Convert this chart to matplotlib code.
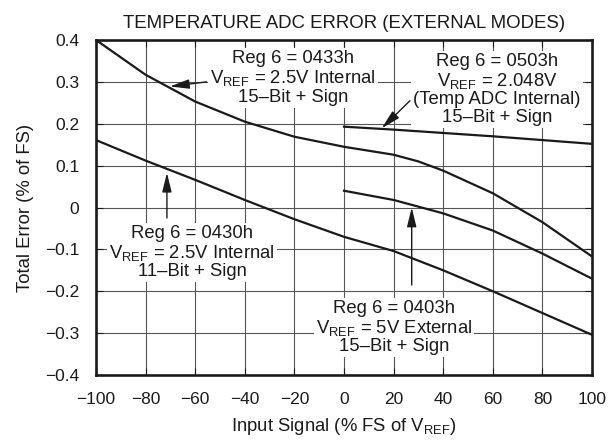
import matplotlib
matplotlib.use('Agg')
import matplotlib.pyplot as plt

plt.rcParams['font.family'] = ['Liberation Sans', 'DejaVu Sans']
plt.rcParams['mathtext.fontset'] = 'custom'
plt.rcParams['mathtext.rm'] = 'Liberation Sans'

# curves (x = % FS, y = % of FS)
x_0433 = [-100, -80, -60, -40, -20, 0, 20, 30, 40, 60, 80, 100]
y_0433 = [0.400, 0.317, 0.253, 0.205, 0.169, 0.145, 0.126, 0.110, 0.088, 0.034, -0.035, -0.117]

x_0503 = [0, 20, 40, 60, 80, 100]
y_0503 = [0.193, 0.186, 0.178, 0.170, 0.161, 0.152]

x_0403 = [0, 20, 30, 40, 60, 80, 100]
y_0403 = [0.040, 0.018, 0.002, -0.014, -0.055, -0.110, -0.170]

x_0430 = [-100, -80, -60, -40, -20, 0, 20, 40, 60, 80, 100]
y_0430 = [0.161, 0.112, 0.066, 0.018, -0.028, -0.070, -0.104, -0.150, -0.200, -0.252, -0.304]

xticks = [-100, -80, -60, -40, -20, 0, 20, 40, 60, 80, 100]
yticks = [0.4, 0.3, 0.2, 0.1, 0, -0.1, -0.2, -0.3, -0.4]
ylabels = ['0.4', '0.3', '0.2', '0.1', '0', '\u22120.1', '\u22120.2', '\u22120.3', '\u22120.4']

ink = '#1a1a1a'
fs = 13.3

fig = plt.figure(figsize=(6.16, 4.43), dpi=100)
ax = fig.add_axes([96/616, 68/443, 496/616, 335/443])

# grid drawn by hand so the text boxes can hide it but not the ticks
for xv in xticks[1:-1]:
    ax.axvline(xv, color='#555555', lw=0.8, zorder=1)
for yv in yticks[1:-1]:
    ax.axhline(yv, color='#555555', lw=0.8, zorder=1)

# curves sit above the white text boxes
for xs, ys in [(x_0433, y_0433), (x_0503, y_0503), (x_0403, y_0403), (x_0430, y_0430)]:
    ax.plot(xs, ys, color=ink, lw=1.6, zorder=3.2, solid_joinstyle='round')

ax.set_xlim(-100, 100)
ax.set_ylim(-0.4, 0.4)
ax.set_xticks(xticks)
ax.set_xticklabels([str(v).replace('-', '\u2212') for v in xticks])
ax.set_yticks(yticks)
ax.set_yticklabels(ylabels)
ax.tick_params(direction='in', length=5, width=0.8, top=True, right=True,
               labelsize=12.5, pad=12, colors=ink)
ax.xaxis.set_zorder(4)
ax.yaxis.set_zorder(4)
for s in ax.spines.values():
    s.set_linewidth(1.9)
    s.set_color(ink)
    s.set_zorder(5)

ax.set_title('TEMPERATURE ADC ERROR (EXTERNAL MODES)', fontsize=13.4, color=ink, pad=9)
ax.set_xlabel('Input Signal (% FS of V$_\\mathregular{REF}$)', fontsize=fs, color=ink, labelpad=7)
ax.set_ylabel('Total Error (% of FS)', fontsize=fs, color=ink, labelpad=8)

box = dict(facecolor='white', edgecolor='none', pad=1.5)
arrow = dict(arrowstyle='-|>,head_length=0.9,head_width=0.22', color=ink, lw=1.0,
             shrinkA=0, shrinkB=0, mutation_scale=13)

notes = [
    ('Reg 6 = 0433h\nV$_\\mathregular{REF}$ = 2.5V Internal\n15\u2013Bit + Sign', -20.6, 0.309),
    ('Reg 6 = 0503h\nV$_\\mathregular{REF}$ = 2.048V\n(Temp ADC Internal)\n15\u2013Bit + Sign', 61.7, 0.282),
    ('Reg 6 = 0430h\nV$_\\mathregular{REF}$ = 2.5V Internal\n11\u2013Bit + Sign', -61.3, -0.108),
    ('Reg 6 = 0403h\nV$_\\mathregular{REF}$ = 5V External\n15\u2013Bit + Sign', 20.2, -0.287),
]
for txt, tx, ty in notes:
    ax.text(tx, ty, txt, ha='center', va='center', multialignment='center',
            fontsize=fs, color=ink, bbox=box, zorder=3, linespacing=1.05)

arrows = [
    ((-55.4, 0.300), (-70.2, 0.289)),
    ((26.6, 0.255), (15.2, 0.189)),
    ((-71.4, -0.025), (-71.4, 0.083)),
    ((27.3, -0.185), (27.3, 0.000)),
]
for tail, head in arrows:
    ax.annotate('', xy=head, xytext=tail, arrowprops=arrow, zorder=3.5)

fig.savefig('out.png', dpi=100)
